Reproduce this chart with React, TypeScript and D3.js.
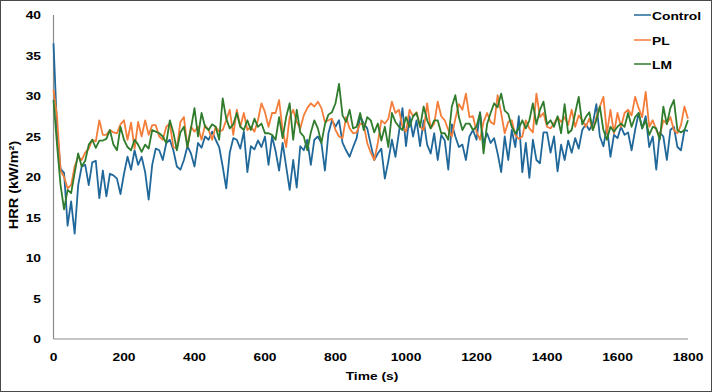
import React from "react";
import * as d3 from "d3";

const STEP = 10;
const xTicks = [0, 200, 400, 600, 800, 1000, 1200, 1400, 1600, 1800];
const yTicks = [0, 5, 10, 15, 20, 25, 30, 35, 40];
const seriesNames = ["Control", "PL", "LM"];
const seriesColors = ["#21689a", "#f47d3a", "#2f7c2c"];

const control = [
  36.5, 26, 21, 20.5, 14, 17, 13, 19, 21.3, 21.5,
  19, 21.8, 22, 17.4, 20.8, 17.6, 20.4, 20.2, 19.8, 17.9,
  20.4, 22.5, 20.9, 23.3, 21.5, 22.5, 20.6, 17.2, 21.5, 23.5,
  23.3, 22.1, 24.2, 24.6, 23.3, 21.3, 20.9, 22.1, 23.8, 22.9,
  21.3, 24.2, 23.6, 25.0, 24.6, 25.6, 24.6, 23.7, 21.3, 18.6,
  23, 24.8, 24.6, 23.5, 25.6, 20.6, 23.8, 23.4, 24.5, 23.7,
  25, 21.5, 25, 23.2, 20.8, 24.2, 21.3, 18.4, 22.1, 18.7,
  23.8, 23.3, 24.6, 21.5, 24.6, 25, 24.2, 20.8, 25.4, 27,
  26.2, 27, 24.2, 23.3, 22.5, 23.7, 24.8, 27.5, 26.6, 26,
  24, 22.1, 22.9, 23.5, 19.8, 22, 24.6, 22.5, 25.5, 28.5,
  23.8, 27.5, 25, 27, 23.8, 27, 24, 22.9, 25.4, 22.1,
  25.2, 24.5, 20.9, 26.5, 25, 23.7, 24, 22.1, 25, 25.8,
  24.6, 28, 24.2, 25.4, 24.2, 24.8, 22.9, 20.6, 25, 22.1,
  25.8, 23.7, 27.5, 20.6, 24.2, 19.9, 24.6, 22.1, 21.7, 25.5,
  25.5, 23, 25, 20.7, 24, 22.1, 24.5, 23, 24.8, 23.5,
  25.8, 26.5, 25.8, 26.6, 29, 25, 23.8, 26.2, 22.5, 25.2,
  24.8, 26.2, 25.2, 25.5, 23.3, 25.8, 27.9, 26, 27.5, 23.7,
  25, 20.9, 25.5, 25, 22.1, 25.8, 26.2, 23.7, 23.3, 25.8,
  25.7,
];

const pl = [
  30.8, 27.5, 20.8, 20, 18.6, 19, 21.3, 22.5, 22.1, 23,
  23.5, 24.6, 24.4, 27, 25.2, 25.2, 25.8, 25.5, 25.4, 26.5,
  27, 24.6, 26.7, 23.5, 26.8, 25, 27, 25.2, 26.4, 26.4,
  25, 24.6, 26.2, 26.6, 23.7, 23.5, 26.8, 27.4, 23.7, 26.2,
  25.6, 26.2, 24.6, 26.4, 25.8, 24.6, 26.2, 25.6, 25.8, 27,
  28.3, 25.2, 28.3, 26.2, 27.9, 25.8, 26.2, 25.6, 27, 29.1,
  28, 26.2, 27.9, 27.9, 29.5, 25.8, 23.7, 27.4, 28.3, 26.8,
  26, 27.6, 28.5, 29.1, 28.7, 29.3, 28.5, 26.8, 27, 27.2,
  25.8, 25, 24.8, 27.4, 26, 25.4, 25.5, 26.6, 26.5, 24.2,
  23, 22.1, 24.2, 27, 26.6, 27.2, 29.3, 27.9, 28.3, 26.2,
  25.6, 28.3, 27.5, 28, 26.2, 25.8, 29.1, 26, 26.6, 29.3,
  27.5, 27, 25.8, 25, 27.2, 29, 28.3, 30.3, 27.4, 27.5,
  25.6, 24.6, 26.8, 27.9, 26.8, 26.5, 30.1, 27.9, 25.4, 26.8,
  27, 25.2, 24.7, 25, 27, 26, 25.5, 30.3, 27.4, 27.9,
  26.2, 26, 26.6, 27.4, 26.8, 27.4, 26.4, 28.3, 26.2, 27.6,
  27, 26.2, 27.2, 25.8, 27.4, 28.7, 29.9, 25.4, 28.3, 25.4,
  27.9, 26.2, 27.9, 28.3, 27.6, 29.9, 28.5, 27.4, 30.5, 26.2,
  27, 25.8, 25, 27, 26.6, 27.4, 25.8, 25.4, 26.4, 28.7,
  27.2,
];

const lm = [
  29.5, 24, 19, 16, 18.4, 18, 20.5, 22.9, 21.3, 22,
  24, 24.6, 23.6, 24.5, 24.5, 24.7, 25.8, 24, 23.3, 26.2,
  24.6, 23.7, 23.3, 24.6, 24, 23.1, 24, 23.5, 25.8, 25.6,
  25.4, 25, 24.2, 27, 25.5, 23.3, 25.5, 26.2, 23.7, 26,
  28.5, 25, 27.9, 26.2, 25.8, 26.5, 26.2, 24.6, 29.7, 27.2,
  26, 26.5, 27.9, 26.2, 25.8, 27, 25.8, 27.2, 26.2, 26.6,
  25.4, 25.4, 25.2, 24.6, 27.4, 24.8, 27.4, 29.1, 24.6, 28.3,
  25.5, 25, 23.3, 25.5, 27, 26, 24.2, 26.5, 27.7, 28,
  29.1, 31.5, 27.6, 26.8, 28.3, 26, 26.2, 27.9, 25.8, 27.4,
  27, 25.5, 26.6, 24.5, 26.2, 23.7, 27.9, 26.8, 26.2, 25.8,
  27.4, 26.2, 27.5, 27.9, 26.2, 28.7, 27, 26, 27, 27,
  25.4, 25.4, 24.6, 28.7, 30.1, 27.4, 25.8, 26.6, 26.6, 25.8,
  26.2, 27.9, 22.9, 26.5, 27.9, 29.1, 28.6, 30.3, 28.2, 27.8,
  26.2, 25.4, 26, 27, 26, 27, 29.1, 26.5, 28.3, 29.3,
  26.5, 27, 26.2, 27.5, 25.4, 29, 25.4, 25.8, 27.9, 29.9,
  26.5, 27.4, 28, 25.8, 27, 28.7, 25.8, 24.6, 26.2, 25.6,
  26.2, 26.6, 26.2, 27.9, 26.2, 27.4, 27.9, 26, 27, 25.2,
  26.2, 26, 24.6, 28.7, 26.5, 28.5, 29.5, 25.8, 25.5, 25.8,
  27,
];

const allSeries = [control, pl, lm];

const W = 712;
const H = 392;
const FONT = "'Liberation Sans', Arial, sans-serif";
const SY = 0.84;

export default function App() {
  const x = d3.scaleLinear().domain([0, 1800]).range([53.5, 688]);
  const y = d3.scaleLinear().domain([0, 40]).range([339, 15]);
  const line = d3
    .line<number>()
    .x((_, i) => x(i * STEP))
    .y((d) => y(d));

  const legendY = [15, 40, 64];

  return (
    <div style={{ position: "absolute", left: 0, top: 0 }}>
      <svg width={W} height={H} style={{ display: "block", background: "#fff" }}>
        <rect x={0.5} y={0.5} width={W - 1} height={H - 1} fill="#fff" stroke="#4a4a4a" strokeWidth={1} />
        <line x1={x(0)} x2={x(1800)} y1={y(0)} y2={y(0)} stroke="#8c8c8c" strokeWidth={1.2} />
        <line x1={x(0)} x2={x(0)} y1={y(0)} y2={y(40)} stroke="#8c8c8c" strokeWidth={1.2} />
        {yTicks.map((t) => (
          <text
            key={"y" + t}
            transform={`translate(41,${y(t) + 4.2}) scale(1,${SY})`}
            textAnchor="end"
            fontFamily={FONT}
            fontWeight="bold"
            fontSize={13.8}
            fill="#000"
          >
            {t}
          </text>
        ))}
        {xTicks.map((t) => (
          <text
            key={"x" + t}
            transform={`translate(${x(t)},361) scale(1,${SY})`}
            textAnchor="middle"
            fontFamily={FONT}
            fontWeight="bold"
            fontSize={13.8}
            fill="#000"
          >
            {t}
          </text>
        ))}
        <text
          transform={`translate(372,380) scale(1,${SY})`}
          textAnchor="middle"
          fontFamily={FONT}
          fontWeight="bold"
          fontSize={13.8}
          fill="#000"
        >
          Time (s)
        </text>
        <text
          transform={`translate(17.5,185) rotate(-90) scale(1,${SY})`}
          textAnchor="middle"
          fontFamily={FONT}
          fontWeight="bold"
          fontSize={14.5}
          fill="#000"
        >
          HRR (kW/m²)
        </text>
        {allSeries.map((s, i) => (
          <path
            key={seriesNames[i]}
            d={line(s) || ""}
            fill="none"
            stroke={seriesColors[i]}
            strokeWidth={1.8}
            strokeLinejoin="round"
          />
        ))}
        {seriesNames.map((n, i) => (
          <g key={"lg" + n}>
            <line x1={634} x2={651} y1={legendY[i]} y2={legendY[i]} stroke={seriesColors[i]} strokeWidth={1.5} />
            <text
              transform={`translate(652,${legendY[i] + 4.5}) scale(1,${SY})`}
              fontFamily={FONT}
              fontWeight="bold"
              fontSize={13.8}
              fill="#000"
            >
              {n}
            </text>
          </g>
        ))}
      </svg>
    </div>
  );
}
